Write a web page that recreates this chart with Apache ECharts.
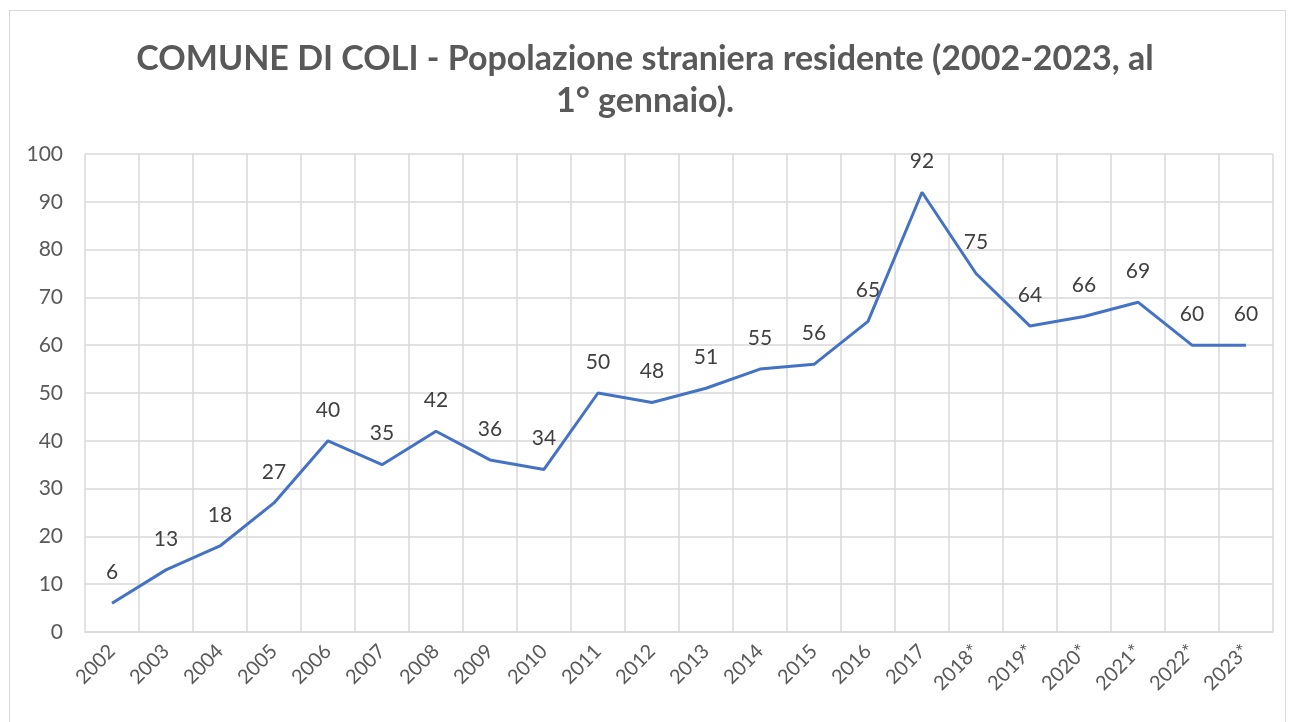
<!DOCTYPE html>
<html>
<head>
<meta charset="utf-8">
<script src="https://cdn.jsdelivr.net/npm/echarts@6/dist/echarts.min.js"></script>
<style>
  html, body { margin: 0; padding: 0; background: #fff; }
  #frame { position: absolute; left: 9px; top: 10px; width: 1277px; height: 720px; border: 1px solid #d9d9d9; box-sizing: border-box; }
  #chart { position: absolute; left: 0; top: 0; width: 1290px; height: 722px; }
</style>
</head>
<body>
<div id="frame"></div>
<div id="chart"></div>
<script>
const years = ['2002', '2003', '2004', '2005', '2006', '2007', '2008', '2009', '2010', '2011', '2012',
  '2013', '2014', '2015', '2016', '2017', '2018*', '2019*', '2020*', '2021*', '2022*', '2023*']
const residents = [6, 13, 18, 27, 40, 35, 42, 36, 34, 50, 48, 51, 55, 56, 65, 92, 75, 64, 66, 69, 60, 60]

const chart = echarts.init(document.getElementById('chart'))

chart.setOption({
  backgroundColor: 'transparent',
  animation: false,
  title: {
    text: 'COMUNE DI COLI - Popolazione straniera residente (2002-2023, al\n1° gennaio).',
    left: 'center', top: 33,
    textStyle: { fontFamily: 'Lato', fontWeight: 'bold', fontSize: 34, color: '#595959', lineHeight: 42, align: 'center' }
  },
  grid: { left: 85, right: 17, top: 154, bottom: 90, containLabel: false },
  xAxis: {
    type: 'category',
    data: years,
    boundaryGap: true,
    axisLine: { lineStyle: { color: '#d9d9d9', width: 1.5 } },
    axisTick: { show: false },
    splitLine: { show: true, lineStyle: { color: '#d9d9d9', width: 1.5 } },
    axisLabel: { rotate: 45, interval: 0, margin: 16, fontFamily: 'Lato', fontSize: 20, color: '#595959' }
  },
  yAxis: {
    type: 'value', min: 0, max: 100, interval: 10,
    axisLine: { show: false },
    axisTick: { show: false },
    splitLine: { lineStyle: { color: '#d9d9d9', width: 1.5 } },
    axisLabel: { margin: 22, fontFamily: 'Lato', fontSize: 21, color: '#595959' }
  },
  series: [{
    type: 'line',
    data: residents,
    symbol: 'circle',
    symbolSize: 1,
    itemStyle: { color: 'rgba(0,0,0,0)' },
    lineStyle: { color: '#4472c4', width: 3 },
    label: { show: true, position: 'top', distance: 20, fontFamily: 'Lato', fontSize: 21, color: '#404040' }
  }]
})
</script>
</body>
</html>
